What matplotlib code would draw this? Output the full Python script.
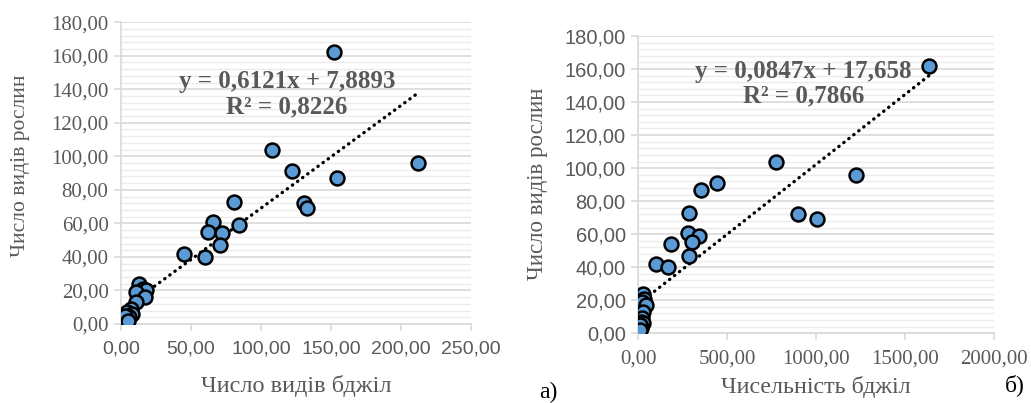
import numpy as np
import matplotlib.pyplot as plt
from matplotlib.ticker import MultipleLocator, FuncFormatter

# --- data ---
# a) number of bee species vs number of plant species
bee_species = [152, 212, 108, 122, 154, 131, 133, 81, 84, 66, 62, 72, 71, 45, 60,
               13, 16, 18, 10.5, 17, 11, 7, 4, 8, 5, 3, 2, 4, 6, 3, 5]
plants_a = [162, 96, 104, 91, 87, 72, 69, 73, 59, 61, 55, 54, 47, 42, 40,
            24, 21, 20, 19, 16, 13, 9, 7, 6, 5, 4, 3, 3, 4, 5, 2]

# b) bee abundance vs number of plant species
bee_abund = [1635, 1221, 772, 440, 352, 895, 1006, 287, 281, 341, 303, 184, 287, 98, 165,
             28, 21, 30, 20, 43, 28, 21, 15, 25, 12, 10, 8, 14, 18, 12, 9]
plants_b = [162, 96, 104, 91, 87, 72, 69, 73, 61, 59, 55, 54, 47, 42, 40,
            24, 20, 21, 19, 17, 13, 9, 7, 6, 5, 4, 3, 3, 4, 5, 2]

eq_a = ["y = 0,6121x + 7,8893", "R² = 0,8226"]
eq_b = ["y = 0,0847x + 17,658", "R² = 0,7866"]
coef_a = (0.6121, 7.8893)
coef_b = (0.0847, 17.658)

grey = '#595959'
grid_major = '#D9D9D9'
grid_minor = '#EBEBEB'
serif = 'Liberation Serif'
sans = 'Liberation Sans'

fig = plt.figure(figsize=(10.31, 4.03), dpi=100)
ax1 = fig.add_axes([0.1174, 0.196, 0.3394, 0.749])
ax2 = fig.add_axes([0.619, 0.173, 0.3454, 0.7377])

fmt = FuncFormatter(lambda v, p: f"{v:.2f}".replace('.', ','))


def style_axes(ax, xmax, xstep, xfont, xsize, xpad, yfont, ysize):
    ax.set_xlim(0, xmax)
    ax.set_ylim(0, 180)
    ax.xaxis.set_major_locator(MultipleLocator(xstep))
    ax.yaxis.set_major_locator(MultipleLocator(20))
    ax.yaxis.set_minor_locator(MultipleLocator(4))
    ax.xaxis.set_major_formatter(fmt)
    ax.yaxis.set_major_formatter(fmt)
    ax.grid(True, axis='y', which='major', color=grid_major, lw=1.2, zorder=0)
    ax.grid(True, axis='y', which='minor', color=grid_minor, lw=1.0, zorder=0)
    ax.set_axisbelow(True)
    for s in ['top', 'right']:
        ax.spines[s].set_visible(False)
    for s in ['left', 'bottom']:
        ax.spines[s].set_color(grid_major)
        ax.spines[s].set_linewidth(1.2)
    ax.tick_params(which='major', length=5, color=grid_major, width=1.2,
                   labelcolor=grey)
    ax.tick_params(which='minor', length=0)
    ax.tick_params(axis='x', pad=xpad, labelsize=xsize, labelfontfamily=xfont)
    ax.tick_params(axis='y', pad=4, labelsize=ysize, labelfontfamily=yfont)


def draw(ax, x, y, coef, eq, txt_pos):
    x = np.array(x, dtype=float)
    xs = np.linspace(x.min(), x.max(), 50)
    ax.plot(xs, coef[0] * xs + coef[1], color='black', lw=2.4,
            linestyle=(0, (0.1, 1.8)), dash_capstyle='round', zorder=2)
    ax.scatter(x, y, s=100, facecolor='#5B9BD5', edgecolor='black',
               linewidth=1.8, zorder=3)
    ax.text(txt_pos[0], txt_pos[1], eq[0] + "\n" + eq[1], transform=ax.transAxes,
            ha='center', va='center', fontsize=18, fontweight='bold',
            family=serif, color=grey, linespacing=1.1)


style_axes(ax1, 250, 50, sans, 14, 7, serif, 15)
style_axes(ax2, 2000, 500, serif, 15, 7, sans, 14.5)

draw(ax1, bee_species, plants_a, coef_a, eq_a, (0.474, 0.762))
draw(ax2, bee_abund, plants_b, coef_b, eq_b, (0.465, 0.84))

ax1.set_ylabel("Число видів рослин", family=serif, fontsize=15.5, color=grey)
ax1.yaxis.set_label_coords(-(121 - 20) / 350, (324 - 166) / 302)
ax1.set_xlabel("Число видів бджіл", family=serif, fontsize=17.5, color=grey)
ax1.xaxis.set_label_coords((296 - 121) / 350, -(386 - 324) / 302)
ax2.set_ylabel("Число видів рослин", family=serif, fontsize=16.5, color=grey)
ax2.yaxis.set_label_coords(-(638.3 - 538) / 356, (333.3 - 184) / 297.3)
ax2.set_xlabel("Чисельність бджіл", family=serif, fontsize=17.3, color=grey)
ax2.xaxis.set_label_coords((816 - 638.3) / 356, -(387 - 333.3) / 297.3)
for lab in [ax1.xaxis.label, ax2.xaxis.label, ax1.yaxis.label, ax2.yaxis.label]:
    lab.set_va('center')

fig.text(548 / 1031, 1 - 392 / 403, "а)", family=serif, fontsize=17,
         ha='center', va='center', color='black')
fig.text(1015 / 1031, 1 - 385 / 403, "б)", family=serif, fontsize=17,
         ha='center', va='center', color='black')

fig.savefig('out.png', dpi=100)
